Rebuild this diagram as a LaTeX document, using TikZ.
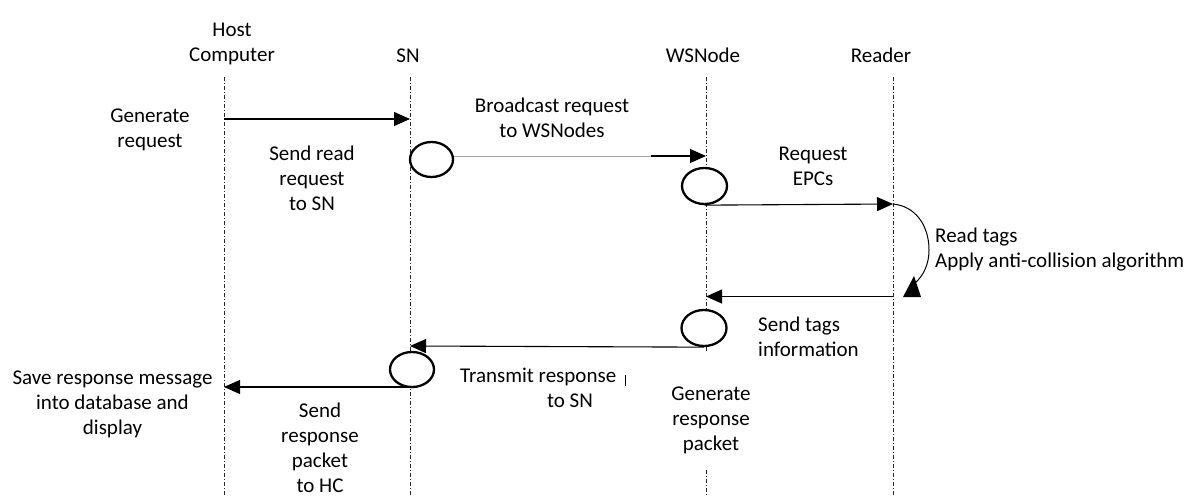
\documentclass[tikz,border=0pt]{standalone}
\usepackage{fontspec}
\setmainfont{Carlito}
\usetikzlibrary{arrows.meta,shapes.geometric}
\begin{document}
\begin{tikzpicture}[x=1pt,y=-1pt,
  lifeline/.style={line width=0.9pt, dash pattern=on 4pt off 2pt on 1pt off 2pt, black!85},
  msg/.style={line width=1.1pt, -{Triangle[length=16pt,width=14pt]}},
  faint/.style={line width=0.8pt, black!35},
  act/.style={ellipse, draw, line width=2.3pt, fill=white, inner sep=0pt},
  lbl/.style={font=\fontsize{21}{25}\selectfont, align=center, inner sep=0pt, anchor=base},
  lbll/.style={lbl, align=left, anchor=base west},
]
\useasboundingbox (0,0) rectangle (1201,495);
\clip (0,0) rectangle (1201,495);

% lifeline heads (base anchor = baseline of the last line)
\node[lbl] (hcH) at (232,62) {Host\\Computer};
\node[lbl] (snH) at (408,63) {SN};
\node[lbl] (wsH) at (703,63) {WSNode};
\node[lbl] (rdH) at (881,63) {Reader};

% lifeline ends
\coordinate (hcT) at (224,77);  \coordinate (hcB) at (224,495);
\coordinate (snT) at (410,77);  \coordinate (snB) at (410,495);
\coordinate (wsT) at (706,77);  \coordinate (wsM) at (706,352);
\coordinate (wsN) at (706,470); \coordinate (wsB) at (706,495);
\coordinate (rdT) at (893,77);  \coordinate (rdB) at (893,495);

\draw[lifeline] (hcT) -- (hcB);
\draw[lifeline] (snT) -- (snB);
\draw[lifeline] (wsT) -- (wsM);
\draw[lifeline] (wsN) -- (wsB);
\draw[lifeline] (rdT) -- (rdB);

% message anchor points
\coordinate (m1a) at (224,119);   \coordinate (m1b) at (410,119);
\coordinate (m2c) at (651,156);   \coordinate (m2b) at (706,156);
\coordinate (m3b) at (893,204);
\coordinate (m4a) at (893,296.5); \coordinate (m4b) at (706,296.5);
\coordinate (m5b) at (410,346);
\coordinate (m6a) at (410,387);   \coordinate (m6b) at (224,387);

% activations
\node[act, minimum width=43pt, minimum height=35pt] (sn1) at (431.5,159.5) {};
\node[act, minimum width=45pt, minimum height=36pt] (ws1) at (704.5,186) {};
\node[act, minimum width=45pt, minimum height=36pt] (ws2) at (704,328) {};
\node[act, minimum width=44pt, minimum height=35pt] (sn2) at (412,369.5) {};

% messages
\draw[msg] (m1a) -- (m1b);
\draw[faint] (sn1.east |- m2c) -- (m2c);
\draw[msg] (m2c) -- (m2b);
\draw[msg] (ws1.south) -- (m3b);
\draw[line width=1pt] (m3b) .. controls (915,206) and (929,225) .. (929,250)
      .. controls (929,265) and (923,276) .. (915,283);
\fill (903,297) -- (921,297) -- (914,276) -- cycle;
\draw[msg] (m4a) -- (m4b);
\draw[msg] (ws2.south) -- (m5b);
\draw[msg] (m6a) -- (m6b);

% step labels
\node[lbl] (t1) at (150,147) {Generate\\request};
\node[lbl] (t2) at (312,210) {Send read\\request\\to SN};
\node[lbl] (t3) at (552,137) {Broadcast request\\to WSNodes};
\node[lbl] (t4) at (813,185) {Request\\EPCs};
\node[lbll] (t5) at (935,267) {Read tags\\Apply anti-collision algorithm};
\node[lbll] (t6) at (758,356) {Send tags\\information};
\node[lbl] (t7) at (112.5,434) {Save response message\\into database and\\display};
\node[lbl] (t8) at (320,492) {Send\\response\\packet\\to HC};
\node[lbll] (t9a) at (460,382) {Transmit response};
\node[lbl] (t9b) at (570,407) {to SN};
\draw[line width=0.6pt] (625,375) -- (625,386);
\node[lbl] (t10) at (711,450) {Generate\\response\\packet};
\end{tikzpicture}
\end{document}
